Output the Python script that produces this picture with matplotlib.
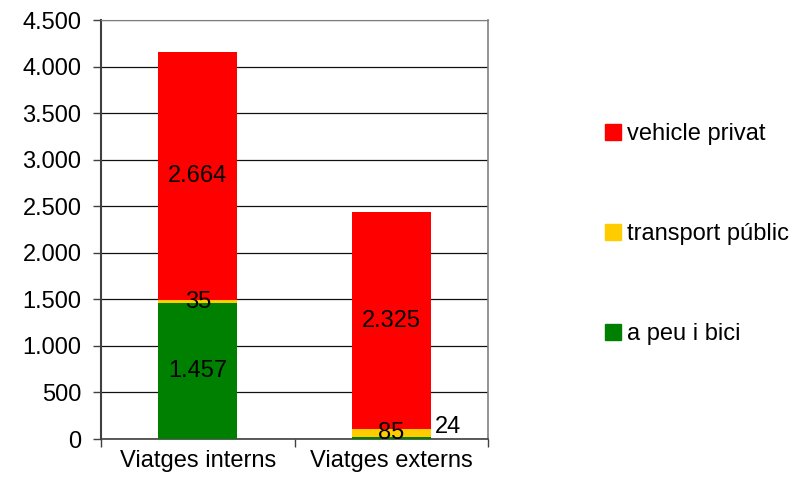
import matplotlib.pyplot as plt
from matplotlib.patches import Patch

plt.rcParams['font.family'] = ['Liberation Sans', 'DejaVu Sans']

categories = ['Viatges interns', 'Viatges externs']
a_peu = [1457, 24]
transport = [35, 85]
vehicle = [2664, 2325]
yticks = [0, 500, 1000, 1500, 2000, 2500, 3000, 3500, 4000, 4500]
yticklabels = ['0', '500', '1.000', '1.500', '2.000', '2.500', '3.000', '3.500', '4.000', '4.500']

c_peu = '#008000'
c_tp = '#ffcc00'
c_veh = '#ff0000'

def fmt(v):
    return '{:,}'.format(v).replace(',', '.')

fig = plt.figure(figsize=(7.95, 4.9), dpi=100)
ax = fig.add_axes([0.127, 0.104, 0.487, 0.855])

x = list(range(len(categories)))
w = 0.41
bottom2 = [a + t for a, t in zip(a_peu, transport)]
ax.bar(x, a_peu, w, color=c_peu, zorder=3)
ax.bar(x, transport, w, bottom=a_peu, color=c_tp, zorder=3)
ax.bar(x, vehicle, w, bottom=bottom2, color=c_veh, zorder=3)

fs = 17
# segment labels
ax.text(0, a_peu[0] / 2, fmt(a_peu[0]), ha='center', va='center', fontsize=fs, zorder=4)
for i in x:
    ax.text(i, a_peu[i] + transport[i] / 2, fmt(transport[i]), ha='center', va='center', fontsize=fs, zorder=4)
    ax.text(i, bottom2[i] + vehicle[i] / 2, fmt(vehicle[i]), ha='center', va='center', fontsize=fs, zorder=4)
# small segment label pushed to the side of the bar
ax.annotate(fmt(a_peu[1]), xy=(1 + w / 2, a_peu[1] / 2), xytext=(3, 8), textcoords='offset points',
            ha='left', va='center', fontsize=fs, zorder=4)

ax.set_xlim(-0.5, 1.5)
ax.set_ylim(0, 4500)
ax.set_yticks(yticks)
ax.set_yticklabels(yticklabels, fontsize=fs)
ax.set_xticks(x)
ax.set_xticklabels(categories, fontsize=fs)
ax.set_xticks([-0.5, 0.5, 1.5], minor=True)
ax.tick_params(axis='x', which='major', length=0, pad=8)
ax.tick_params(axis='x', which='minor', length=6, width=1, color='#404040', direction='out')
ax.tick_params(axis='y', length=6, width=1, color='#404040', pad=8)

ax.grid(axis='y', color='#111111', linewidth=0.9, zorder=0)
ax.spines['left'].set_color('#404040')
ax.spines['left'].set_linewidth(1.5)
ax.spines['bottom'].set_color('#404040')
ax.spines['bottom'].set_linewidth(1.2)
ax.spines['top'].set_color('#808080')
ax.spines['right'].set_color('#808080')
ax.spines['right'].set_linewidth(1.2)

handles = [Patch(color=c_veh), Patch(color=c_tp), Patch(color=c_peu)]
labels = ['vehicle privat', 'transport públic', 'a peu i bici']
fig.legend(handles, labels, loc='center left', bbox_to_anchor=(0.734, 0.522), frameon=False,
           fontsize=fs, handlelength=0.68, handleheight=0.68, handletextpad=0.25, labelspacing=3.3)

fig.savefig('out.png', dpi=100)
